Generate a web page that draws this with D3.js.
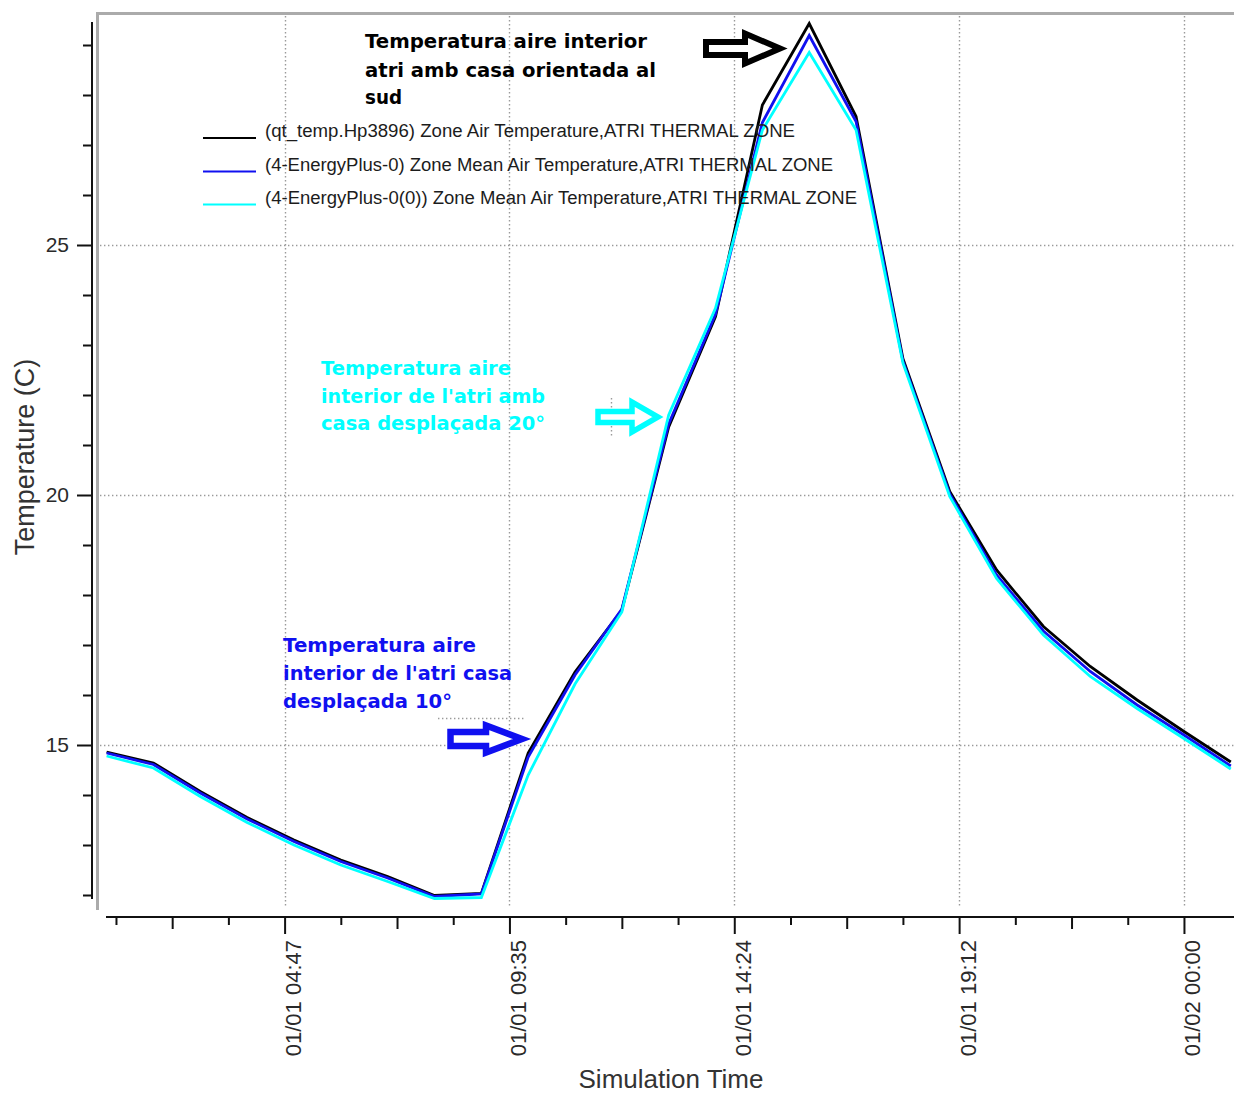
<!DOCTYPE html>
<html>
<head>
<meta charset="utf-8">
<script src="https://cdn.jsdelivr.net/npm/d3@7"></script>
<style>
  body { margin: 0; background: #fff; }
  svg { display: block; }
</style>
</head>
<body>
<svg id="chart" width="1234" height="1095"></svg>
<script>
// Hourly simulation time steps (hours since 01/01 00:00)
const hours = [1, 2, 3, 4, 5, 6, 7, 8, 9, 10, 11, 12, 13, 14, 15, 16, 17, 18, 19, 20, 21, 22, 23, 24, 25];

// Atrium air temperature, house facing south (qt_temp.Hp3896)
const qtTemp = [14.86, 14.64, 14.07, 13.55, 13.10, 12.70, 12.37, 11.99, 12.03, 14.84, 16.46, 17.70, 21.36,
                23.57, 27.80, 29.43, 27.57, 22.73, 20.07, 18.50, 17.37, 16.57, 15.90, 15.27, 14.66];
// House rotated 10 degrees (4-EnergyPlus-0)
const ep0 = [14.84, 14.61, 14.04, 13.52, 13.07, 12.67, 12.34, 11.97, 12.02, 14.76, 16.40, 17.72, 21.42,
             23.62, 27.45, 29.19, 27.47, 22.68, 20.02, 18.40, 17.28, 16.47, 15.80, 15.20, 14.58];
// House rotated 20 degrees (4-EnergyPlus-0(0))
const ep00 = [14.78, 14.54, 13.97, 13.45, 13.00, 12.60, 12.27, 11.93, 11.95, 14.40, 16.22, 17.66, 21.60,
              23.74, 27.30, 28.85, 27.30, 22.64, 19.97, 18.33, 17.20, 16.37, 15.73, 15.13, 14.52];

const seriesNames = [
  "(qt_temp.Hp3896) Zone Air Temperature,ATRI THERMAL ZONE",
  "(4-EnergyPlus-0) Zone Mean Air Temperature,ATRI THERMAL ZONE",
  "(4-EnergyPlus-0(0)) Zone Mean Air Temperature,ATRI THERMAL ZONE"
];
const seriesColors = ["#000000", "#1010f0", "#00ffff"];

// Axis ticks
const yMajorTicks = [15, 20, 25];
const yMinorTicks = [12, 13, 14, 16, 17, 18, 19, 21, 22, 23, 24, 26, 27, 28, 29];
const xMajorTicks = [4.8, 9.6, 14.4, 19.2, 24.0];
const xMajorLabels = ["01/01 04:47", "01/01 09:35", "01/01 14:24", "01/01 19:12", "01/02 00:00"];
const xMidTicks = [2.4, 7.2, 12.0, 16.8, 21.6];
const xSmallTicks = [1.2, 3.6, 6.0, 8.4, 10.8, 13.2, 15.6, 18.0, 20.4, 22.8];

// Callout texts
const noteSouth = ["Temperatura aire interior", "atri amb casa orientada al", "sud"];
const note20 = ["Temperatura aire", "interior de l'atri amb", "casa desplaçada 20°"];
const note10 = ["Temperatura aire", "interior de l'atri casa", "desplaçada 10°"];

const svg = d3.select("#chart");

const x = d3.scaleLinear().domain([1, 25]).range([106.6, 1230.8]);
const y = d3.scaleLinear().domain([12, 29]).range([895, 45]);

const gridStyle = g => g.attr("stroke", "#9a9a9a").attr("stroke-width", 1.4)
  .attr("stroke-dasharray", "1.4,2.6").attr("fill", "none");

// Plot frame (top and left)
svg.append("path")
  .attr("d", "M97.5,910 V13.5 H1234")
  .attr("fill", "none").attr("stroke", "#ababab").attr("stroke-width", 3);

// Grid
const grid = svg.append("g").call(gridStyle);
grid.selectAll("line.v").data(xMajorTicks).join("line").attr("class", "v")
  .attr("x1", d => Math.round(x(d)) + 0.5).attr("x2", d => Math.round(x(d)) + 0.5)
  .attr("y1", 16).attr("y2", 908);
grid.selectAll("line.h").data(yMajorTicks).join("line").attr("class", "h")
  .attr("x1", 100).attr("x2", 1234)
  .attr("y1", d => Math.round(y(d)) + 0.5).attr("y2", d => Math.round(y(d)) + 0.5);
// stray dotted marks beside the callout arrows
grid.append("line").attr("x1", 438).attr("x2", 525).attr("y1", 718.5).attr("y2", 718.5);
grid.append("line").attr("x1", 611.5).attr("x2", 611.5).attr("y1", 398).attr("y2", 438);

// Y axis
const yAxisG = svg.append("g").attr("transform", "translate(92,0)");
yAxisG.append("line").attr("x1", 0).attr("x2", 0).attr("y1", 22).attr("y2", 899)
  .attr("stroke", "#111").attr("stroke-width", 2);
yAxisG.append("g").call(d3.axisLeft(y).tickValues(yMinorTicks).tickSize(9).tickFormat(""))
  .call(g => g.select(".domain").remove())
  .call(g => g.selectAll("line").attr("stroke", "#111").attr("stroke-width", 2));
yAxisG.append("g").call(d3.axisLeft(y).tickValues(yMajorTicks).tickSize(15).tickPadding(8).tickFormat(d3.format("d")))
  .call(g => g.select(".domain").remove())
  .call(g => g.selectAll("line").attr("stroke", "#111").attr("stroke-width", 2))
  .call(g => g.selectAll("text").attr("font-family", "Liberation Sans, Arial, sans-serif")
    .attr("font-size", 21).attr("fill", "#2a2a2a"));

// X axis
const xAxisG = svg.append("g").attr("transform", "translate(0,917)");
xAxisG.append("line").attr("x1", 106).attr("x2", 1234).attr("y1", 0).attr("y2", 0)
  .attr("stroke", "#111").attr("stroke-width", 2);
xAxisG.append("g").call(d3.axisBottom(x).tickValues(xSmallTicks).tickSize(8).tickFormat(""))
  .call(g => g.select(".domain").remove())
  .call(g => g.selectAll("line").attr("stroke", "#111").attr("stroke-width", 2));
xAxisG.append("g").call(d3.axisBottom(x).tickValues(xMidTicks).tickSize(12).tickFormat(""))
  .call(g => g.select(".domain").remove())
  .call(g => g.selectAll("line").attr("stroke", "#111").attr("stroke-width", 2));
xAxisG.append("g").call(d3.axisBottom(x).tickValues(xMajorTicks).tickSize(17)
    .tickFormat((d, i) => xMajorLabels[i]))
  .call(g => g.select(".domain").remove())
  .call(g => g.selectAll("line").attr("stroke", "#111").attr("stroke-width", 2))
  .call(g => g.selectAll("text")
    .attr("font-family", "Liberation Sans, Arial, sans-serif").attr("font-size", 22)
    .attr("fill", "#2a2a2a")
    .attr("text-anchor", "end").attr("dy", null).attr("y", null)
    .attr("transform", "translate(16,23) rotate(-90)"));

// Axis titles
svg.append("text").text("Simulation Time")
  .attr("x", 671).attr("y", 1088).attr("text-anchor", "middle")
  .attr("font-family", "Liberation Sans, Arial, sans-serif").attr("font-size", 26).attr("fill", "#333");
svg.append("text").text("Temperature (C)")
  .attr("transform", "translate(34,457) rotate(-90)").attr("text-anchor", "middle")
  .attr("font-family", "Liberation Sans, Arial, sans-serif").attr("font-size", 27).attr("fill", "#333");

// Series lines
const line = d3.line().x((d, i) => x(hours[i])).y(d => y(d));
const allSeries = [qtTemp, ep0, ep00];
svg.append("g").selectAll("path").data(allSeries).join("path")
  .attr("d", line)
  .attr("fill", "none")
  .attr("stroke", (d, i) => seriesColors[i])
  .attr("stroke-width", 2.8)
  .attr("stroke-linejoin", "miter");

// Legend
const legendBaselines = [137, 170.5, 203.5];
const legendWidths = [530, 568, 592];
const legend = svg.append("g");
seriesNames.forEach((name, i) => {
  legend.append("line").attr("x1", 203).attr("x2", 256)
    .attr("y1", legendBaselines[i] + 1).attr("y2", legendBaselines[i] + 1)
    .attr("stroke", seriesColors[i]).attr("stroke-width", 2);
  legend.append("text").text(name)
    .attr("x", 265).attr("y", legendBaselines[i])
    .attr("font-family", "Liberation Sans, Arial, sans-serif").attr("font-size", 18)
    .attr("fill", "#1c1c1c")
    .attr("textLength", legendWidths[i]).attr("lengthAdjust", "spacingAndGlyphs");
});

// Callouts
function note(lines, x0, baselines, widths, color) {
  const g = svg.append("g");
  lines.forEach((t, i) => {
    g.append("text").text(t).attr("x", x0).attr("y", baselines[i])
      .attr("font-family", "DejaVu Sans, Verdana, sans-serif").attr("font-weight", "bold")
      .attr("font-size", 20).attr("fill", color)
      .attr("textLength", widths[i]).attr("lengthAdjust", "spacingAndGlyphs");
  });
}
note(noteSouth, 365, [48, 76.5, 104], [282, 291, 37], "#000");
note(note20, 321, [375, 403, 430], [190, 224, 224], "#00ffff");
note(note10, 283, [652, 680, 708], [193, 229, 169], "#1010f0");

// Block arrows pointing at the curves
function arrow(x0, xh, x1, cy, sh, hh, color, sw) {
  const p = d3.path();
  p.moveTo(x0, cy - sh);
  p.lineTo(xh, cy - sh);
  p.lineTo(xh, cy - hh);
  p.lineTo(x1, cy);
  p.lineTo(xh, cy + hh);
  p.lineTo(xh, cy + sh);
  p.lineTo(x0, cy + sh);
  p.closePath();
  svg.append("path").attr("d", p.toString())
    .attr("fill", "#fff").attr("stroke", color).attr("stroke-width", sw)
    .attr("stroke-linejoin", "miter").attr("stroke-miterlimit", 3);
}
arrow(706, 745, 780, 48.5, 6.5, 15, "#000", 6);
arrow(598, 632, 658, 417, 5.5, 15, "#00ffff", 5.5);
arrow(450.5, 486, 522, 739, 7, 13.5, "#1010f0", 6.5);
</script>
</body>
</html>
